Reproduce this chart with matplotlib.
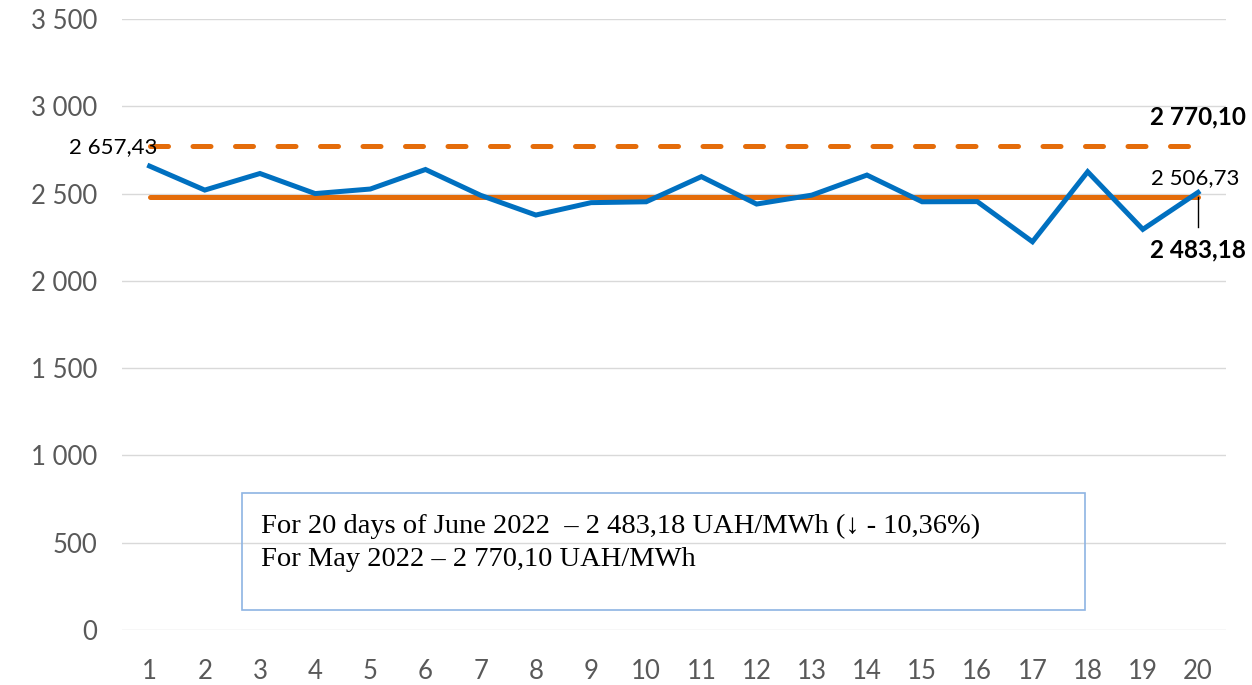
import matplotlib
matplotlib.use("Agg")
import matplotlib.pyplot as plt
from matplotlib.patches import Rectangle

days = list(range(1, 21))
daily_price = [2657.43, 2520, 2615, 2500, 2526, 2638, 2490, 2377, 2448, 2453,
               2597, 2440, 2491, 2606, 2453, 2454, 2224, 2625, 2295, 2506.73]
june_avg = 2483.18
may_avg = 2770.10
yticks = [0, 500, 1000, 1500, 2000, 2500, 3000, 3500]
ytick_labels = ["0", "500", "1 000", "1 500", "2 000", "2 500", "3 000", "3 500"]
box_lines = ["For 20 days of June 2022  \u2013 2 483,18 UAH/MWh (\u2193 - 10,36%)",
             "For May 2022 \u2013 2 770,10 UAH/MWh"]

BLUE = "#0070C0"
ORANGE = "#E46C0A"
GRID = "#D9D9D9"
TICK = "#595959"
SANS = ["Lato", "DejaVu Sans"]
SERIF = ["Liberation Serif", "DejaVu Serif"]

fig = plt.figure(figsize=(12.52, 6.85), dpi=100)
ax = fig.add_axes([122 / 1252, 1 - 630 / 685, (1225.6 - 122) / 1252, (630 - 19) / 685])
ax.set_xlim(0.5, 20.5)
ax.set_ylim(0, 3500)
for s in ax.spines.values():
    s.set_visible(False)
ax.set_yticks(yticks)
ax.set_yticklabels(ytick_labels, fontsize=18.5, color=TICK, family=SANS)
ax.set_xticks(days)
ax.set_xticklabels([str(d) for d in days], fontsize=18.5, color=TICK, family=SANS)
ax.tick_params(length=0, pad=18, axis="y")
ax.tick_params(length=0, pad=21, axis="x")
ax.yaxis.grid(True, color=GRID, linewidth=1)
ax.set_axisbelow(True)

ax.plot([days[0], days[-1]], [may_avg, may_avg], color=ORANGE, lw=3.6,
        linestyle=(0, (3.6, 4.9)), dash_capstyle="round", zorder=3)
ax.plot([days[0], days[-1]], [june_avg, june_avg], color=ORANGE, lw=3.6,
        solid_capstyle="round", zorder=3)
ax.plot(days, daily_price, color=BLUE, lw=3.6, solid_joinstyle="miter", zorder=4)

ax.annotate("2 657,43", (days[0], daily_price[0]), xytext=(-36, 19),
            textcoords="offset pixels", ha="center", va="center",
            fontsize=16, family=SANS, color="black", zorder=5)
ax.annotate("2 506,73", (days[-1], daily_price[-1]), xytext=(-3, 14),
            textcoords="offset pixels", ha="center", va="center",
            fontsize=16, family=SANS, color="black", zorder=5)
ax.annotate("2 770,10", (days[-1], may_avg), xytext=(48, 29),
            textcoords="offset pixels", ha="right", va="center",
            fontsize=17.5, fontweight="bold", family=SANS, color="black", zorder=5)
ax.annotate("2 483,18", (days[-1], june_avg), xytext=(48, -53),
            textcoords="offset pixels", ha="right", va="center",
            fontsize=17.5, fontweight="bold", family=SANS, color="black", zorder=5)
ax.plot([days[-1], days[-1]], [june_avg, june_avg - 172], color="black", lw=1, zorder=5)

# text box
fig.patches.append(Rectangle((242 / 1252, 1 - 610 / 685), (1085 - 242) / 1252, (610 - 493) / 685,
                             transform=fig.transFigure, fill=False, edgecolor="#8EB4E3", lw=1.2, zorder=6))
fig.text(261 / 1252, 1 - 526 / 685, box_lines[0], fontsize=20.5, family=SERIF, va="center", ha="left",
         bbox=dict(facecolor="white", edgecolor="none", pad=1), zorder=7)
fig.text(261 / 1252, 1 - 560 / 685, box_lines[1], fontsize=20.5, family=SERIF, va="center", ha="left",
         zorder=7)

fig.savefig("out.png", dpi=100)
